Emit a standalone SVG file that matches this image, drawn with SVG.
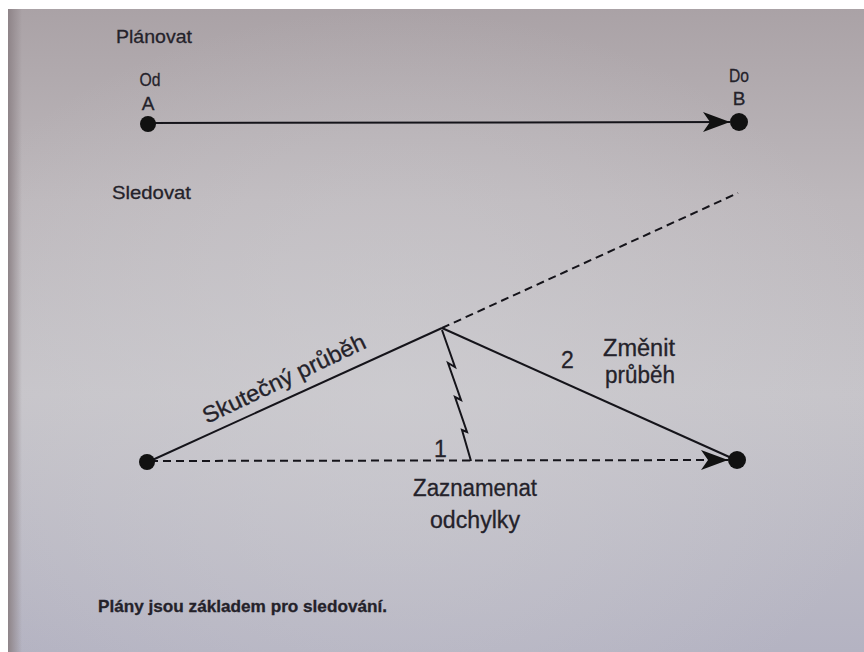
<svg xmlns="http://www.w3.org/2000/svg" width="864" height="652" viewBox="0 0 864 652">
  <defs>
    <linearGradient id="page" x1="0" y1="0" x2="0" y2="1">
      <stop offset="0" stop-color="#aaa2a6"/>
      <stop offset="0.3" stop-color="#bdb8bc"/>
      <stop offset="0.6" stop-color="#c6c4c9"/>
      <stop offset="1" stop-color="#b4b3c2"/>
    </linearGradient>
    <radialGradient id="glow" cx="0.45" cy="0.6" r="0.6">
      <stop offset="0" stop-color="#d0cfd3" stop-opacity="0.6"/>
      <stop offset="1" stop-color="#d0cfd3" stop-opacity="0"/>
    </radialGradient>
    <linearGradient id="edge" x1="0" y1="0" x2="1" y2="0">
      <stop offset="0" stop-color="#8e8488"/>
      <stop offset="1" stop-color="#8e8488" stop-opacity="0"/>
    </linearGradient>
    <marker id="arrow" markerUnits="userSpaceOnUse" markerWidth="30" markerHeight="22" refX="27" refY="10" orient="auto">
      <path d="M0,0 L27,10 L0,20 L7,10 Z" fill="#111"/>
    </marker>
  </defs>
  <style>
    text { font-family: "Liberation Sans", Arial, sans-serif; fill: #24222a; stroke: #24222a; stroke-width: 0.3; }
    .lbl { font-size: 19px; }
    .big { font-size: 23px; }
    .line { stroke: #15141a; stroke-width: 2; fill: none; }
    .dash { stroke: #15141a; stroke-width: 2; fill: none; stroke-dasharray: 8 5; }
    .dot { fill: #111; }
  </style>

  <!-- page background -->
  <rect x="0" y="0" width="864" height="652" fill="#ffffff"/>
  <rect x="8" y="9" width="856" height="643" fill="url(#page)"/>
  <rect x="8" y="9" width="856" height="643" fill="url(#glow)"/>
  <rect x="8" y="9" width="14" height="643" fill="url(#edge)"/>

  <!-- titles -->
  <text id="title-plan" class="lbl" x="116" y="43" textLength="76" lengthAdjust="spacingAndGlyphs">Plánovat</text>
  <text id="title-track" class="lbl" x="112" y="199" textLength="79" lengthAdjust="spacingAndGlyphs">Sledovat</text>

  <!-- connectors -->
  <g id="connectors">
    <line class="line" x1="150" y1="123" x2="730" y2="122" marker-end="url(#arrow)"/>
    <line class="dash" x1="150" y1="461" x2="728" y2="460" marker-end="url(#arrow)"/>
    <line class="line" x1="148" y1="462" x2="442" y2="328"/>
    <line class="dash" x1="442" y1="328" x2="738" y2="193" stroke-dasharray="9 7"/>
    <line class="line" x1="442" y1="328" x2="736" y2="460"/>
    <path class="line" stroke-width="1.5" d="M442,330 L455,367 L448,363 L461,400 L455,397 L467,432 L462,430 L471,461"/>
  </g>

  <!-- nodes -->
  <g id="node-A">
    <text class="lbl" x="150" y="86" text-anchor="middle" font-size="18" textLength="21" lengthAdjust="spacingAndGlyphs">Od</text>
    <text class="lbl" x="148" y="110" text-anchor="middle" font-size="17">A</text>
    <circle class="dot" cx="148" cy="124" r="8"/>
  </g>
  <g id="node-B">
    <text class="lbl" x="739" y="82" text-anchor="middle" font-size="18" textLength="20" lengthAdjust="spacingAndGlyphs">Do</text>
    <text class="lbl" x="739" y="105" text-anchor="middle" font-size="17">B</text>
    <circle class="dot" cx="739" cy="122" r="9"/>
  </g>
  <g id="node-start">
    <circle class="dot" cx="147" cy="462" r="8"/>
  </g>
  <g id="node-end">
    <circle class="dot" cx="737" cy="460" r="9"/>
  </g>

  <!-- labels -->
  <g id="label-actual">
    <text class="big" transform="translate(207,424) rotate(-25.5)" textLength="178" lengthAdjust="spacingAndGlyphs">Skutečný průběh</text>
  </g>
  <g id="label-1">
    <text class="big" x="434" y="457">1</text>
  </g>
  <g id="label-2">
    <text class="big" x="561" y="368">2</text>
  </g>
  <g id="label-change">
    <text class="big" x="603" y="356" textLength="72" lengthAdjust="spacingAndGlyphs">Změnit</text>
    <text class="big" x="605" y="383" textLength="70" lengthAdjust="spacingAndGlyphs">průběh</text>
  </g>
  <g id="label-record">
    <text class="big" x="413" y="496" textLength="124" lengthAdjust="spacingAndGlyphs">Zaznamenat</text>
    <text class="big" x="430" y="528" textLength="90" lengthAdjust="spacingAndGlyphs">odchylky</text>
  </g>

  <!-- caption -->
  <text id="caption" x="98" y="612" font-size="17" font-weight="bold" textLength="289" lengthAdjust="spacingAndGlyphs">Plány jsou základem pro sledování.</text>
</svg>
